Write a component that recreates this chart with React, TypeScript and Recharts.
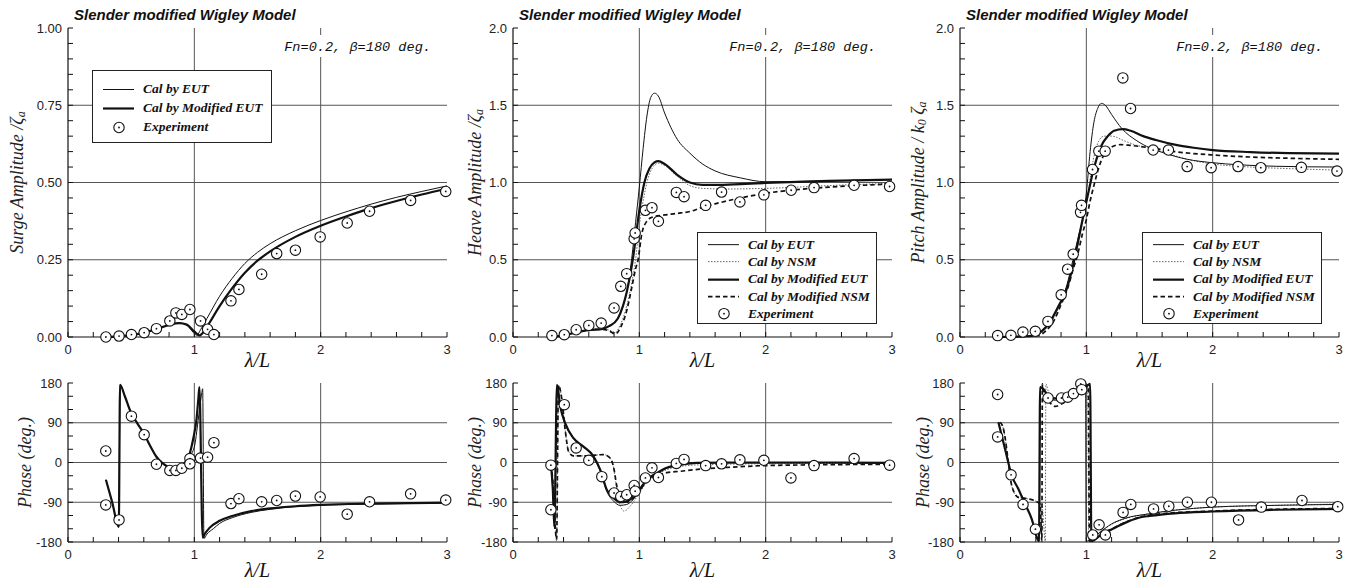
import React from "react";
import { ComposedChart, Line, Scatter, XAxis, YAxis, CartesianGrid, Legend } from "recharts";

type Pt = [number, number];

// ---- axes ----
const X_TICKS = [0, 0.2, 0.4, 0.6, 0.8, 1, 1.2, 1.4, 1.6, 1.8, 2, 2.2, 2.4, 2.6, 2.8, 3];
const X_LABELS = [0, 1, 2, 3];
const X_GRID = [1, 2];

const SURGE_TICKS = [0, 0.05, 0.1, 0.15, 0.2, 0.25, 0.3, 0.35, 0.4, 0.45, 0.5, 0.55, 0.6, 0.65, 0.7, 0.75, 0.8, 0.85, 0.9, 0.95, 1];
const SURGE_LABELS = [0, 0.25, 0.5, 0.75, 1];
const SURGE_GRID = [0.25, 0.5, 0.75];

const AMP_TICKS = [0, 0.1, 0.2, 0.3, 0.4, 0.5, 0.6, 0.7, 0.8, 0.9, 1, 1.1, 1.2, 1.3, 1.4, 1.5, 1.6, 1.7, 1.8, 1.9, 2];
const AMP_LABELS = [0, 0.5, 1, 1.5, 2];
const AMP_GRID = [0.5, 1, 1.5];

const PHASE_TICKS = [-180, -150, -120, -90, -60, -30, 0, 30, 60, 90, 120, 150, 180];
const PHASE_LABELS = [-180, -90, 0, 90, 180];
const PHASE_GRID = [-90, 0, 90];

// ---- surge amplitude ----
const surgeEut: Pt[] = [[0.3, 0], [0.4, 0.002], [0.5, 0.006], [0.6, 0.014], [0.7, 0.026], [0.8, 0.039], [0.88, 0.045], [0.94, 0.039], [0.98, 0.02], [1.02, 0.006], [1.05, 0.024], [1.1, 0.06], [1.2, 0.132], [1.3, 0.19], [1.4, 0.238], [1.5, 0.274], [1.6, 0.302], [1.8, 0.344], [2.0, 0.377], [2.2, 0.405], [2.4, 0.43], [2.6, 0.452], [2.8, 0.471], [3.0, 0.489]];
const surgeModEut: Pt[] = [[0.3, 0], [0.4, 0.002], [0.5, 0.006], [0.6, 0.014], [0.7, 0.026], [0.8, 0.039], [0.88, 0.045], [0.94, 0.04], [1.0, 0.018], [1.04, 0.005], [1.08, 0.02], [1.12, 0.046], [1.2, 0.1], [1.3, 0.158], [1.4, 0.208], [1.5, 0.247], [1.6, 0.277], [1.8, 0.324], [2.0, 0.36], [2.2, 0.39], [2.4, 0.417], [2.6, 0.44], [2.8, 0.461], [3.0, 0.48]];
const surgeExp: Pt[] = [[0.3, 0], [0.404, 0.003], [0.502, 0.008], [0.603, 0.014], [0.7, 0.027], [0.806, 0.052], [0.854, 0.078], [0.901, 0.073], [0.965, 0.089], [1.049, 0.052], [1.105, 0.025], [1.155, 0.008], [1.29, 0.117], [1.353, 0.154], [1.533, 0.203], [1.652, 0.27], [1.8, 0.281], [1.996, 0.324], [2.21, 0.369], [2.387, 0.407], [2.712, 0.442], [2.99, 0.471]];

// ---- heave amplitude ----
const heaveEut: Pt[] = [[0.3, 0.002], [0.4, 0.01], [0.5, 0.03], [0.6, 0.045], [0.7, 0.05], [0.76, 0.07], [0.82, 0.11], [0.86, 0.18], [0.9, 0.29], [0.94, 0.51], [0.97, 0.74], [1.0, 0.97], [1.03, 1.22], [1.06, 1.43], [1.09, 1.55], [1.12, 1.578], [1.15, 1.56], [1.2, 1.45], [1.3, 1.28], [1.4, 1.19], [1.5, 1.12], [1.6, 1.075], [1.8, 1.03], [2.0, 1.005], [2.5, 1.01], [3.0, 1.02]];
const heaveNsm: Pt[] = [[0.3, 0.002], [0.4, 0.01], [0.5, 0.03], [0.6, 0.045], [0.7, 0.05], [0.76, 0.045], [0.81, 0.03], [0.85, 0.08], [0.9, 0.2], [0.94, 0.35], [0.97, 0.5], [1.0, 0.72], [1.02, 0.83], [1.06, 1.0], [1.1, 1.09], [1.15, 1.125], [1.2, 1.11], [1.3, 1.04], [1.4, 0.98], [1.5, 0.962], [1.7, 0.958], [2.0, 0.962], [2.5, 0.98], [3.0, 0.995]];
const heaveModEut: Pt[] = [[0.3, 0.002], [0.4, 0.01], [0.5, 0.03], [0.6, 0.045], [0.7, 0.05], [0.76, 0.07], [0.83, 0.12], [0.87, 0.2], [0.9, 0.29], [0.95, 0.51], [1.0, 0.82], [1.04, 1.0], [1.08, 1.09], [1.12, 1.13], [1.15, 1.138], [1.2, 1.12], [1.3, 1.05], [1.4, 1.0], [1.5, 0.985], [1.6, 0.985], [1.8, 0.99], [2.0, 0.997], [2.5, 1.01], [3.0, 1.018]];
const heaveModNsm: Pt[] = [[0.3, 0.002], [0.4, 0.01], [0.5, 0.03], [0.6, 0.045], [0.7, 0.05], [0.76, 0.04], [0.81, 0.02], [0.85, 0.06], [0.9, 0.17], [0.94, 0.32], [0.97, 0.44], [0.99, 0.5], [1.02, 0.67], [1.06, 0.75], [1.1, 0.775], [1.2, 0.79], [1.3, 0.8], [1.4, 0.812], [1.5, 0.84], [1.6, 0.862], [1.8, 0.9], [2.0, 0.93], [2.2, 0.95], [2.5, 0.97], [3.0, 0.99]];
const heaveExp: Pt[] = [[0.308, 0.009], [0.406, 0.015], [0.5, 0.047], [0.6, 0.075], [0.698, 0.09], [0.8, 0.188], [0.853, 0.328], [0.9, 0.41], [0.959, 0.636], [0.967, 0.673], [1.048, 0.82], [1.1, 0.837], [1.151, 0.749], [1.293, 0.936], [1.354, 0.908], [1.525, 0.852], [1.651, 0.938], [1.796, 0.874], [1.986, 0.92], [2.202, 0.95], [2.383, 0.967], [2.7, 0.982], [2.981, 0.974]];

// ---- pitch amplitude ----
const pitchEut: Pt[] = [[0.3, 0], [0.45, 0.002], [0.58, 0.008], [0.65, 0.04], [0.71, 0.095], [0.78, 0.2], [0.84, 0.32], [0.9, 0.52], [0.94, 0.66], [0.97, 0.76], [1.0, 0.93], [1.03, 1.2], [1.06, 1.39], [1.09, 1.48], [1.12, 1.512], [1.15, 1.5], [1.2, 1.44], [1.28, 1.35], [1.4, 1.27], [1.5, 1.225], [1.6, 1.195], [1.8, 1.15], [2.0, 1.128], [2.2, 1.115], [2.5, 1.105], [3.0, 1.1]];
const pitchNsm: Pt[] = [[0.3, 0], [0.45, 0.002], [0.6, 0.008], [0.66, 0.035], [0.72, 0.09], [0.78, 0.19], [0.84, 0.3], [0.9, 0.47], [0.95, 0.66], [0.98, 0.78], [1.01, 0.9], [1.04, 1.08], [1.07, 1.2], [1.1, 1.27], [1.14, 1.3], [1.2, 1.3], [1.3, 1.27], [1.4, 1.24], [1.5, 1.225], [1.6, 1.2], [1.8, 1.15], [2.0, 1.12], [2.3, 1.1], [2.6, 1.09], [3.0, 1.08]];
const pitchModEut: Pt[] = [[0.3, 0], [0.45, 0.002], [0.58, 0.008], [0.65, 0.04], [0.71, 0.095], [0.78, 0.2], [0.84, 0.3], [0.9, 0.48], [0.95, 0.68], [0.98, 0.8], [1.02, 0.95], [1.05, 1.06], [1.08, 1.15], [1.12, 1.24], [1.17, 1.3], [1.22, 1.335], [1.29, 1.345], [1.35, 1.335], [1.45, 1.3], [1.55, 1.275], [1.7, 1.245], [1.85, 1.225], [2.0, 1.21], [2.3, 1.197], [2.6, 1.19], [3.0, 1.187]];
const pitchModNsm: Pt[] = [[0.3, 0], [0.45, 0.002], [0.62, 0.008], [0.68, 0.04], [0.74, 0.1], [0.8, 0.21], [0.85, 0.31], [0.9, 0.45], [0.93, 0.53], [0.97, 0.67], [1.0, 0.76], [1.03, 0.88], [1.06, 0.98], [1.1, 1.1], [1.14, 1.18], [1.2, 1.23], [1.27, 1.245], [1.35, 1.24], [1.5, 1.225], [1.7, 1.2], [2.0, 1.178], [2.3, 1.165], [2.6, 1.157], [3.0, 1.15]];
const pitchExp: Pt[] = [[0.298, 0.009], [0.403, 0.011], [0.498, 0.032], [0.596, 0.037], [0.696, 0.101], [0.801, 0.273], [0.852, 0.439], [0.896, 0.536], [0.954, 0.807], [0.962, 0.852], [1.049, 1.084], [1.099, 1.203], [1.149, 1.203], [1.289, 1.677], [1.35, 1.479], [1.529, 1.21], [1.65, 1.21], [1.798, 1.103], [1.988, 1.096], [2.201, 1.103], [2.381, 1.096], [2.702, 1.098], [2.984, 1.074]];

// ---- surge phase ----
const surgePhEut: Pt[] = [[0.3, -39], [0.35, -90], [0.402, -146], [0.412, 176], [0.45, 150], [0.5, 112], [0.55, 88], [0.6, 66], [0.65, 38], [0.7, 13], [0.75, -2], [0.8, -10], [0.86, -11], [0.91, -5], [0.96, 14], [1.0, 35], [1.03, 95], [1.055, 150], [1.066, 167], [1.076, -172], [1.1, -162], [1.15, -150], [1.2, -138], [1.3, -125], [1.45, -113], [1.6, -106], [1.8, -100], [2.0, -97], [2.4, -94], [3.0, -92]];
const surgePhModEut: Pt[] = [[0.3, -39], [0.35, -90], [0.402, -146], [0.412, 176], [0.45, 150], [0.5, 112], [0.55, 88], [0.6, 66], [0.65, 38], [0.7, 13], [0.75, -2], [0.8, -10], [0.86, -11], [0.91, -5], [0.96, 17], [0.99, 52], [1.018, 100], [1.032, 145], [1.04, 171], [1.066, -170], [1.08, -163], [1.12, -148], [1.2, -132], [1.3, -121], [1.45, -110], [1.6, -104], [1.8, -99], [2.0, -96], [2.4, -93], [3.0, -91]];
const surgePhExp: Pt[] = [[0.299, 26], [0.299, -96], [0.404, -130], [0.502, 105], [0.603, 63], [0.7, -4], [0.806, -18], [0.854, -18], [0.901, -13], [0.965, 9], [0.965, -3], [1.049, 10], [1.105, 12], [1.155, 45], [1.29, -93], [1.353, -82], [1.533, -89], [1.652, -86], [1.8, -76], [1.996, -78], [2.21, -117], [2.387, -89], [2.712, -71], [2.99, -85]];

// ---- heave phase ----
const heavePhEut: Pt[] = [[0.3, -5], [0.315, -60], [0.33, -150], [0.35, 174], [0.376, 125], [0.413, 88], [0.479, 54], [0.558, 35], [0.637, 12], [0.69, -19], [0.743, -66], [0.795, -87], [0.848, -97], [0.9, -95], [0.98, -74], [1.059, -42], [1.138, -25], [1.217, -13], [1.32, -6], [1.455, -2], [1.7, -1], [2.0, -1], [2.5, -1], [3.0, -2]];
const heavePhNsm: Pt[] = [[0.3, -5], [0.32, -60], [0.335, -150], [0.345, -175], [0.36, 175], [0.387, 142], [0.413, 74], [0.44, 25], [0.479, 15], [0.585, 15], [0.716, 18], [0.769, 10], [0.795, -9], [0.822, -60], [0.85, -98], [0.88, -110], [0.93, -98], [0.98, -78], [1.06, -45], [1.14, -27], [1.22, -16], [1.32, -9], [1.5, -5], [2.0, -3], [3.0, -2]];
const heavePhModEut: Pt[] = [[0.3, -5], [0.315, -60], [0.327, -145], [0.348, 176], [0.374, 127], [0.413, 89], [0.479, 55], [0.558, 36], [0.637, 14], [0.69, -16], [0.743, -62], [0.795, -80], [0.848, -90], [0.9, -88], [0.98, -69], [1.059, -39], [1.138, -24], [1.217, -12], [1.32, -5], [1.455, -1], [1.7, 0], [2.0, 0], [2.5, 0], [3.0, -1]];
const heavePhModNsm: Pt[] = [[0.3, -5], [0.32, -60], [0.335, -150], [0.345, -175], [0.36, 175], [0.387, 142], [0.413, 74], [0.44, 25], [0.479, 15], [0.585, 15], [0.716, 18], [0.769, 10], [0.795, -9], [0.822, -54], [0.848, -84], [0.9, -90], [0.98, -72], [1.059, -42], [1.138, -30], [1.217, -23], [1.32, -20], [1.48, -15], [1.7, -11], [2.0, -7], [2.5, -5], [3.0, -4]];
const heavePhExp: Pt[] = [[0.3, -6], [0.3, -107], [0.406, 131], [0.5, 33], [0.6, 5], [0.703, -32], [0.8, -69], [0.853, -77], [0.9, -73], [0.959, -52], [0.967, -65], [1.048, -35], [1.1, -12], [1.151, -34], [1.293, -2], [1.354, 7], [1.525, -7], [1.651, -3], [1.796, 6], [1.986, 5], [2.2, -35], [2.383, -7], [2.7, 9], [2.981, -6]];

// ---- pitch phase ----
const pitchPhEut: Pt[] = [[0.304, 91], [0.357, 30], [0.41, -30], [0.462, -60], [0.515, -94], [0.568, -128], [0.613, -173], [0.628, -178], [0.636, 172], [0.66, 165], [0.7, 150], [0.76, 141], [0.82, 143], [0.88, 150], [0.94, 160], [0.98, 172], [0.994, 178], [0.999, -178], [1.04, -174], [1.1, -160], [1.2, -139], [1.3, -127], [1.5, -116], [1.7, -108], [2.0, -101], [2.5, -97], [3.0, -95]];
const pitchPhNsm: Pt[] = [[0.317, 91], [0.338, 82], [0.357, 56], [0.383, 0], [0.41, -53], [0.462, -79], [0.515, -81], [0.608, -89], [0.65, -100], [0.675, -178], [0.68, 178], [0.7, 160], [0.75, 140], [0.82, 140], [0.9, 150], [0.98, 168], [1.01, 176], [1.02, -178], [1.06, -168], [1.12, -155], [1.2, -140], [1.3, -128], [1.5, -116], [1.7, -108], [2.0, -101], [2.5, -97], [3.0, -94]];
const pitchPhModEut: Pt[] = [[0.304, 91], [0.357, 30], [0.41, -30], [0.462, -60], [0.515, -94], [0.568, -128], [0.613, -173], [0.625, -178], [0.634, 170], [0.66, 166], [0.7, 150], [0.75, 145], [0.8, 146], [0.85, 149], [0.9, 155], [0.95, 163], [1.0, 172], [1.03, 178], [1.04, -178], [1.11, -165], [1.21, -150], [1.32, -135], [1.43, -124], [1.5, -121], [1.7, -115], [2.0, -111], [2.5, -107], [3.0, -105]];
const pitchPhModNsm: Pt[] = [[0.317, 91], [0.338, 82], [0.357, 56], [0.383, 0], [0.41, -53], [0.462, -79], [0.515, -81], [0.608, -89], [0.634, -94], [0.648, -178], [0.652, 178], [0.66, 157], [0.713, 135], [0.753, 127], [0.819, 135], [0.898, 146], [0.977, 165], [1.015, 176], [1.025, -178], [1.06, -172], [1.11, -163], [1.21, -149], [1.32, -134], [1.43, -123], [1.6, -116], [2.0, -110], [2.5, -106], [3.0, -104]];
const pitchPhExp: Pt[] = [[0.298, 154], [0.298, 58], [0.404, -28], [0.499, -95], [0.597, -151], [0.697, 146], [0.803, 146], [0.853, 148], [0.898, 156], [0.956, 178], [0.964, 165], [1.051, -164], [1.101, -141], [1.151, -164], [1.291, -113], [1.352, -95], [1.532, -105], [1.653, -99], [1.8, -90], [1.99, -90], [2.205, -130], [2.385, -101], [2.707, -86], [2.99, -100]];

type Kind = "eut" | "nsm" | "modEut" | "modNsm";

const STYLES: Record<Kind, { name: string; stroke: string; width: number; dash?: string }> = {
  eut: { name: "Cal by EUT", stroke: "#111", width: 1 },
  nsm: { name: "Cal by NSM", stroke: "#666", width: 1, dash: "1.5 1.5" },
  modEut: { name: "Cal by Modified EUT", stroke: "#111", width: 2.2 },
  modNsm: { name: "Cal by Modified NSM", stroke: "#111", width: 1.7, dash: "4.5 3" },
};

const SERIF = "'Liberation Serif', 'Times New Roman', serif";
const SANS = "'Liberation Sans', Arial, sans-serif";
const TICK = { fontSize: 13, fill: "#222", fontFamily: SANS };
const FRAME = { stroke: "#111", strokeWidth: 1.2 };

type LegendCfg = { x: number; y: number; h: number; padTop: number; rowH: number; rows: (Kind | "exp")[] };

type PanelCfg = {
  id: string;
  left: number;
  right: number;
  top: number;
  bottom: number;
  yDomain: [number, number];
  yTicks: number[];
  yLabels: number[];
  yGrid: number[];
  yFmt: (v: number) => string;
  curves: { kind: Kind; data: Pt[] }[];
  exp: Pt[];
  legend?: LegendCfg;
  title: boolean;
  yLabel: React.ReactNode;
  yLabelX: number;
  xLabelY: number;
};

const near = (list: number[], v: number) => list.some((t) => Math.abs(t - v) < 1e-6);
const toXY = (pts: Pt[]) => pts.map(([x, y]) => ({ x, y }));

function Marker({ cx, cy }: { cx?: number; cy?: number }) {
  if (cx == null || cy == null) return null;
  return (
    <g>
      <circle cx={cx} cy={cy} r={5.2} fill="#fff" stroke="#111" strokeWidth={1.1} />
      <circle cx={cx} cy={cy} r={0.9} fill="#111" />
    </g>
  );
}

function LegendBox({ cfg }: { cfg: LegendCfg }) {
  return (
    <div
      style={{
        width: 180,
        height: cfg.h,
        boxSizing: "border-box",
        border: "1px solid #222",
        background: "#fff",
        paddingTop: cfg.padTop,
        fontFamily: SERIF,
        fontStyle: "italic",
        fontWeight: "bold",
        fontSize: 13.5,
        color: "#111",
      }}
    >
      {cfg.rows.map((r) => (
        <div key={r} style={{ display: "flex", alignItems: "center", height: cfg.rowH }}>
          <svg width={50} height={cfg.rowH} style={{ flex: "none" }}>
            {r === "exp" ? (
              <Marker cx={26} cy={cfg.rowH / 2} />
            ) : (
              <line
                x1={10}
                x2={41}
                y1={cfg.rowH / 2}
                y2={cfg.rowH / 2}
                stroke={STYLES[r].stroke}
                strokeWidth={STYLES[r].width}
                strokeDasharray={STYLES[r].dash}
              />
            )}
          </svg>
          <span style={{ whiteSpace: "nowrap" }}>{r === "exp" ? "Experiment" : STYLES[r].name}</span>
        </div>
      ))}
    </div>
  );
}

function Panel({ cfg }: { cfg: PanelCfg }) {
  const ox = cfg.left - 60;
  const oy = cfg.top - 28;
  const w = cfg.right - cfg.left + 70;
  const h = cfg.bottom - cfg.top + 73;
  const xFmt = (v: number) => (near(X_LABELS, v) ? String(v) : "");
  const yFmt = (v: number) => (near(cfg.yLabels, v) ? cfg.yFmt(v) : "");
  return (
    <div style={{ position: "absolute", left: ox, top: oy }}>
      <ComposedChart width={w} height={h} margin={{ top: 28, right: 10, bottom: 15, left: 20 }}>
        <CartesianGrid stroke="#555" strokeWidth={1} verticalValues={X_GRID} horizontalValues={cfg.yGrid} />
        <XAxis
          dataKey="x"
          type="number"
          domain={[0, 3]}
          ticks={X_TICKS}
          interval={0}
          height={30}
          tickSize={-5}
          tickMargin={13}
          tickFormatter={xFmt}
          tick={TICK}
          axisLine={FRAME}
          tickLine={{ stroke: "#111" }}
        />
        <XAxis
          xAxisId="top"
          orientation="top"
          dataKey="x"
          type="number"
          domain={[0, 3]}
          ticks={X_TICKS}
          interval={0}
          height={0}
          tickSize={-5}
          tickFormatter={() => ""}
          tick={TICK}
          axisLine={FRAME}
          tickLine={{ stroke: "#111" }}
        />
        <YAxis
          type="number"
          domain={cfg.yDomain}
          ticks={cfg.yTicks}
          interval={0}
          width={40}
          tickSize={-5}
          tickMargin={11}
          tickFormatter={yFmt}
          tick={TICK}
          axisLine={FRAME}
          tickLine={{ stroke: "#111" }}
        />
        <YAxis
          yAxisId="right"
          orientation="right"
          type="number"
          domain={cfg.yDomain}
          ticks={cfg.yTicks}
          interval={0}
          width={0}
          tickSize={-5}
          tickFormatter={() => ""}
          tick={TICK}
          axisLine={FRAME}
          tickLine={{ stroke: "#111" }}
        />
        {cfg.curves.map((c) => (
          <Line
            key={c.kind}
            data={toXY(c.data)}
            dataKey="y"
            type="monotone"
            stroke={STYLES[c.kind].stroke}
            strokeWidth={STYLES[c.kind].width}
            strokeDasharray={STYLES[c.kind].dash}
            dot={false}
            activeDot={false}
            legendType="none"
            isAnimationActive={false}
          />
        ))}
        <Scatter
          data={toXY(cfg.exp)}
          dataKey="y"
          shape={(p: any) => <Marker cx={p.cx} cy={p.cy} />}
          legendType="none"
          isAnimationActive={false}
        />
        {cfg.legend && (
          <Legend
            layout="vertical"
            align="center"
            verticalAlign="middle"
            wrapperStyle={{ left: cfg.legend.x - ox, top: cfg.legend.y - oy, width: 180 }}
            content={() => <LegendBox cfg={cfg.legend as LegendCfg} />}
          />
        )}
      </ComposedChart>
    </div>
  );
}

const SUB = { fontSize: 12 };

const surgeLabel = (
  <>
    <tspan>Surge Amplitude /ζ</tspan>
    <tspan dy={4} style={SUB}>a</tspan>
  </>
);
const heaveLabel = (
  <>
    <tspan>Heave Amplitude /ζ</tspan>
    <tspan dy={4} style={SUB}>a</tspan>
  </>
);
const pitchLabel = (
  <>
    <tspan>Pitch Amplitude / k</tspan>
    <tspan dy={4} style={SUB}>0</tspan>
    <tspan dy={-4}> ζ</tspan>
    <tspan dy={4} style={SUB}>a</tspan>
  </>
);
const phaseLabel = <tspan>Phase (deg.)</tspan>;

const fmt2 = (v: number) => v.toFixed(2);
const fmt1 = (v: number) => v.toFixed(1);
const fmt0 = (v: number) => String(v);

const legend3: LegendCfg = { x: 92, y: 70, h: 73, padTop: 8.5, rowH: 19, rows: ["eut", "modEut", "exp"] };
const legend5 = (x: number): LegendCfg => ({ x, y: 232, h: 92, padTop: 3, rowH: 17.3, rows: ["eut", "nsm", "modEut", "modNsm", "exp"] });

const PANELS: PanelCfg[] = [
  {
    id: "surge", left: 68, right: 447, top: 28, bottom: 337, yDomain: [0, 1], yTicks: SURGE_TICKS, yLabels: SURGE_LABELS, yGrid: SURGE_GRID, yFmt: fmt2,
    curves: [{ kind: "eut", data: surgeEut }, { kind: "modEut", data: surgeModEut }], exp: surgeExp, legend: legend3,
    title: true, yLabel: surgeLabel, yLabelX: 17, xLabelY: 367,
  },
  {
    id: "heave", left: 513, right: 892, top: 28, bottom: 337, yDomain: [0, 2], yTicks: AMP_TICKS, yLabels: AMP_LABELS, yGrid: AMP_GRID, yFmt: fmt1,
    curves: [{ kind: "nsm", data: heaveNsm }, { kind: "eut", data: heaveEut }, { kind: "modNsm", data: heaveModNsm }, { kind: "modEut", data: heaveModEut }], exp: heaveExp, legend: legend5(697),
    title: true, yLabel: heaveLabel, yLabelX: 475, xLabelY: 367,
  },
  {
    id: "pitch", left: 960, right: 1339, top: 28, bottom: 337, yDomain: [0, 2], yTicks: AMP_TICKS, yLabels: AMP_LABELS, yGrid: AMP_GRID, yFmt: fmt1,
    curves: [{ kind: "nsm", data: pitchNsm }, { kind: "eut", data: pitchEut }, { kind: "modNsm", data: pitchModNsm }, { kind: "modEut", data: pitchModEut }], exp: pitchExp, legend: legend5(1142),
    title: true, yLabel: pitchLabel, yLabelX: 918, xLabelY: 367,
  },
  {
    id: "surgePh", left: 68, right: 447, top: 383, bottom: 542, yDomain: [-180, 180], yTicks: PHASE_TICKS, yLabels: PHASE_LABELS, yGrid: PHASE_GRID, yFmt: fmt0,
    curves: [{ kind: "eut", data: surgePhEut }, { kind: "modEut", data: surgePhModEut }], exp: surgePhExp,
    title: false, yLabel: phaseLabel, yLabelX: 25, xLabelY: 577,
  },
  {
    id: "heavePh", left: 513, right: 892, top: 383, bottom: 542, yDomain: [-180, 180], yTicks: PHASE_TICKS, yLabels: PHASE_LABELS, yGrid: PHASE_GRID, yFmt: fmt0,
    curves: [{ kind: "nsm", data: heavePhNsm }, { kind: "eut", data: heavePhEut }, { kind: "modNsm", data: heavePhModNsm }, { kind: "modEut", data: heavePhModEut }], exp: heavePhExp,
    title: false, yLabel: phaseLabel, yLabelX: 475, xLabelY: 577,
  },
  {
    id: "pitchPh", left: 960, right: 1339, top: 383, bottom: 542, yDomain: [-180, 180], yTicks: PHASE_TICKS, yLabels: PHASE_LABELS, yGrid: PHASE_GRID, yFmt: fmt0,
    curves: [{ kind: "nsm", data: pitchPhNsm }, { kind: "eut", data: pitchPhEut }, { kind: "modNsm", data: pitchPhModNsm }, { kind: "modEut", data: pitchPhModEut }], exp: pitchPhExp,
    title: false, yLabel: phaseLabel, yLabelX: 923, xLabelY: 577,
  },
];

function Overlay() {
  return (
    <svg width={1351} height={583} style={{ position: "absolute", left: 0, top: 0, pointerEvents: "none" }}>
      {PANELS.map((p) => (
        <g key={p.id}>
          {p.title && (
            <>
              <text x={p.left + 6} y={p.top - 8} fontFamily={SANS} fontStyle="italic" fontWeight="bold" fontSize={15} fill="#111">
                Slender modified Wigley Model
              </text>
              <rect x={p.right - 178} y={p.top + 7} width={166} height={22} fill="#fff" />
              <text x={p.right - 16} y={p.top + 23} textAnchor="end" fontFamily="'Liberation Mono', 'Courier New', monospace" fontStyle="italic" fontSize={13.6} fill="#111">
                Fn=0.2, β=180 deg.
              </text>
            </>
          )}
          <text x={(p.left + p.right) / 2} y={p.xLabelY} textAnchor="middle" fontFamily={SERIF} fontStyle="italic" fontSize={20} fill="#111">
            λ/L
          </text>
          <text
            transform={`translate(${p.yLabelX},${(p.top + p.bottom) / 2}) rotate(-90)`}
            textAnchor="middle"
            dominantBaseline="central"
            fontFamily={SERIF}
            fontStyle="italic"
            fontSize={18}
            fill="#222"
          >
            {p.yLabel}
          </text>
        </g>
      ))}
    </svg>
  );
}

export default function App() {
  return (
    <div style={{ position: "absolute", left: 0, top: 0, width: 1351, height: 583, overflow: "hidden", background: "#fff" }}>
      {PANELS.map((p) => (
        <Panel key={p.id} cfg={p} />
      ))}
      <Overlay />
    </div>
  );
}
